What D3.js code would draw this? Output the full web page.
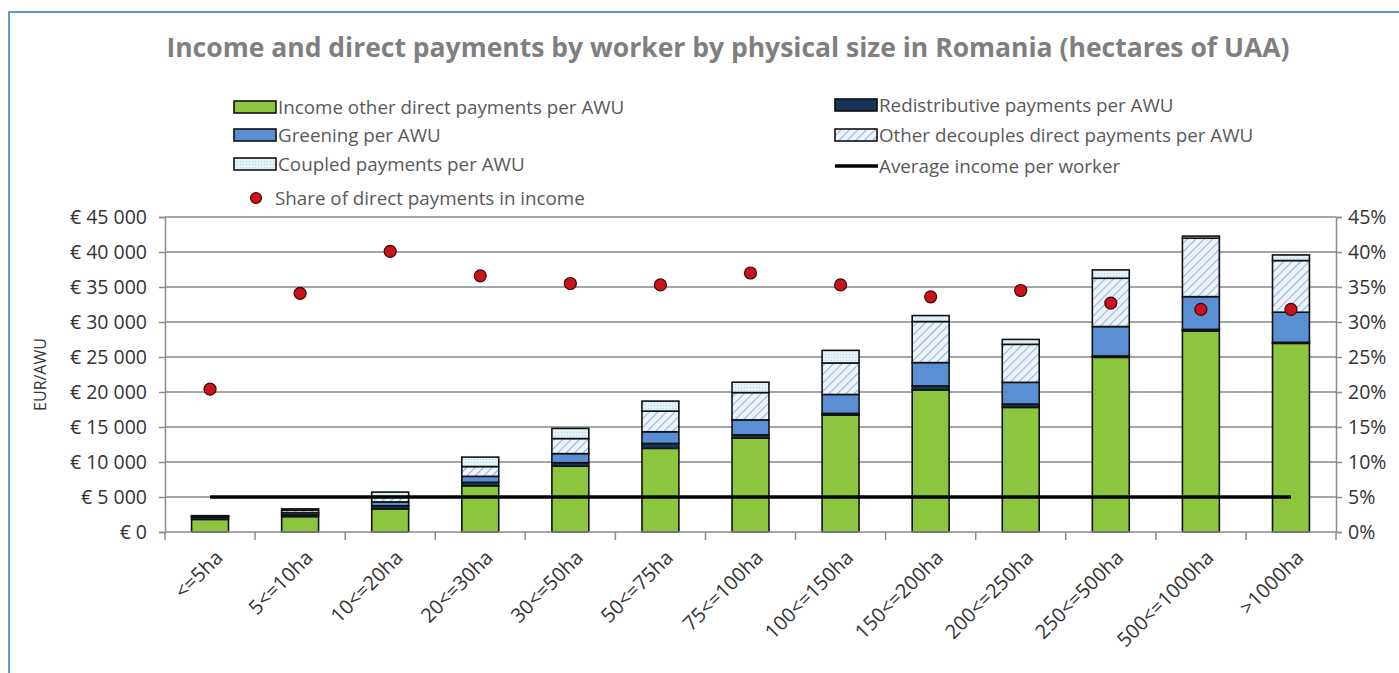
<!DOCTYPE html>
<html>
<head>
<meta charset="utf-8">
<script src="https://cdn.jsdelivr.net/npm/d3@7"></script>
<style>
  body { margin: 0; background: #fff; }
  svg { display: block; font-family: "Open Sans", sans-serif; }
</style>
</head>
<body>
<div id="chart"></div>
<script>
// values (EUR per AWU, share in %)
let categories = ["<=5ha", "5<=10ha", "10<=20ha", "20<=30ha", "30<=50ha", "50<=75ha", "75<=100ha",
	"100<=150ha", "150<=200ha", "200<=250ha", "250<=500ha", "500<=1000ha", ">1000ha"];
let incomeOther = [1800, 2200, 3300, 6600, 9400, 11950, 13400, 16700, 20300, 17800, 24950, 28700, 26950];
let redistributive = [350, 250, 450, 500, 500, 700, 480, 250, 570, 480, 200, 250, 150];
let greening = [100, 300, 550, 850, 1300, 1670, 2140, 2700, 3330, 3100, 4200, 4670, 4300];
let otherDecoupled = [50, 350, 750, 1400, 2150, 2950, 3900, 4500, 5860, 5430, 6900, 8350, 7380];
let coupled = [30, 200, 650, 1350, 1450, 1430, 1480, 1800, 860, 700, 1190, 300, 800];
let shareDP = [20.4, 34.1, 40.1, 36.6, 35.5, 35.3, 37.0, 35.3, 33.6, 34.5, 32.7, 31.8, 31.8];
let avgIncome = 5000;
let leftTicks = [0, 5000, 10000, 15000, 20000, 25000, 30000, 35000, 40000, 45000];
let rightTicks = [0, 5, 10, 15, 20, 25, 30, 35, 40, 45];

let width = 1399, height = 673;
let plot = { left: 165, right: 1336, top: 217, bottom: 532 };

let svg = d3.select("#chart").append("svg")
	.attr("width", width)
	.attr("height", height);

let defs = svg.append("defs");
let hatch = defs.append("pattern")
	.attr("id", "hatch")
	.attr("patternUnits", "userSpaceOnUse")
	.attr("width", 6).attr("height", 6)
	.attr("patternTransform", "rotate(45)");
hatch.append("rect").attr("width", 6).attr("height", 6).attr("fill", "#eef3fa");
hatch.append("line").attr("x1", 0).attr("y1", 0).attr("x2", 0).attr("y2", 6)
	.attr("stroke", "#93b6e0").attr("stroke-width", 2.2);

let dots = defs.append("pattern")
	.attr("id", "dots")
	.attr("patternUnits", "userSpaceOnUse")
	.attr("width", 3).attr("height", 3);
dots.append("rect").attr("width", 3).attr("height", 3).attr("fill", "#e3f2f7");
dots.append("rect").attr("width", 1).attr("height", 1).attr("fill", "#b3d8e6");

// outer frame (only top and left visible)
svg.append("rect")
	.attr("x", 9).attr("y", 12)
	.attr("width", width).attr("height", height)
	.attr("fill", "none")
	.attr("stroke", "#5b9bd5")
	.attr("stroke-width", 2);

svg.append("text")
	.attr("x", 728).attr("y", 57)
	.attr("text-anchor", "middle")
	.style("font-size", "26.5px")
	.style("font-weight", "bold")
	.style("fill", "#7f7f7f")
	.text("Income and direct payments by worker by physical size in Romania (hectares of UAA)");

/* Scales */
let xScale = d3.scaleBand()
	.domain(categories)
	.range([plot.left, plot.right])
	.paddingInner(0.59)
	.paddingOuter(0.295);
let yScale = d3.scaleLinear().domain([0, 45000]).range([plot.bottom, plot.top]);
let yRight = d3.scaleLinear().domain([0, 45]).range([plot.bottom, plot.top]);

// grid
svg.append("g")
	.attr("class", "grid")
	.selectAll("line")
	.data(leftTicks.slice(1))
	.enter().append("line")
	.attr("x1", plot.left).attr("x2", plot.right)
	.attr("y1", d => yScale(d)).attr("y2", d => yScale(d))
	.attr("stroke", "#a6a6a6")
	.attr("stroke-width", 2);

let fmtEuro = d => "€ " + (d === 0 ? "0" : d3.format(",")(d).replace(/,/g, " "));

let yAxis = svg.append("g")
	.attr("transform", `translate(${plot.left},0)`)
	.call(d3.axisLeft(yScale).tickValues(leftTicks).tickSize(6).tickPadding(12).tickFormat(fmtEuro));
let yAxisR = svg.append("g")
	.attr("transform", `translate(${plot.right},0)`)
	.call(d3.axisRight(yRight).tickValues(rightTicks).tickSize(6).tickPadding(6).tickFormat(d => d + "%"));
[yAxis, yAxisR].forEach(g => {
	g.select(".domain").attr("stroke", "#8c8c8c").attr("stroke-width", 1.5);
	g.selectAll(".tick line").attr("stroke", "#8c8c8c").attr("stroke-width", 1.5);
	g.selectAll(".tick text")
		.style("font-size", "19.5px")
		.style("font-family", "Open Sans, sans-serif")
		.style("fill", "#333");
});

svg.append("text")
	.attr("transform", `translate(40,${(plot.top + plot.bottom) / 2}) rotate(-90)`)
	.attr("text-anchor", "middle")
	.attr("dy", "0.35em")
	.style("font-size", "16px")
	.style("fill", "#333")
	.text("EUR/AWU");

/* stacked bars */
let keys = ["income", "redist", "greening", "other", "coupled"];
let fills = {
	income: "#8cc63f",
	redist: "#1a3358",
	greening: "#5b8fd4",
	other: "url(#hatch)",
	coupled: "url(#dots)"
};
let table = categories.map((c, i) => ({
	cat: c,
	income: incomeOther[i],
	redist: redistributive[i],
	greening: greening[i],
	other: otherDecoupled[i],
	coupled: coupled[i]
}));
let stacked = d3.stack().keys(keys)(table);

svg.append("g")
	.attr("class", "bars")
	.selectAll("g")
	.data(stacked).enter()
	.append("g")
	.attr("fill", d => fills[d.key])
	.selectAll("rect")
	.data(d => d).enter()
	.append("rect")
	.attr("x", d => xScale(d.data.cat))
	.attr("width", xScale.bandwidth())
	.attr("y", d => yScale(d[1]))
	.attr("height", d => yScale(d[0]) - yScale(d[1]))
	.attr("stroke", "#111")
	.attr("stroke-width", 1.6);

// x axis
let xAxisG = svg.append("g").attr("class", "x axis");
xAxisG.append("line")
	.attr("x1", plot.left).attr("x2", plot.right)
	.attr("y1", plot.bottom).attr("y2", plot.bottom)
	.attr("stroke", "#8c8c8c").attr("stroke-width", 1.5);
xAxisG.selectAll(".xtick")
	.data(d3.range(categories.length + 1)).enter()
	.append("line")
	.attr("x1", i => plot.left + i * xScale.step())
	.attr("x2", i => plot.left + i * xScale.step())
	.attr("y1", plot.bottom).attr("y2", plot.bottom + 8)
	.attr("stroke", "#8c8c8c").attr("stroke-width", 1.5);
xAxisG.selectAll(".xlabel")
	.data(categories).enter()
	.append("text")
	.attr("transform", d => `translate(${xScale(d) + xScale.bandwidth() / 2 + 9},${plot.bottom + 22}) rotate(-45)`)
	.attr("text-anchor", "end")
	.attr("dy", "0.35em")
	.style("font-size", "20px")
	.style("fill", "#333")
	.text(d => d);

/* average income line */
let cx = d => xScale(d) + xScale.bandwidth() / 2;
svg.append("line")
	.attr("x1", cx(categories[0]))
	.attr("x2", cx(categories[categories.length - 1]))
	.attr("y1", yScale(avgIncome)).attr("y2", yScale(avgIncome))
	.attr("stroke", "#000").attr("stroke-width", 3.5);

/* share dots */
svg.append("g")
	.selectAll("circle")
	.data(shareDP).enter()
	.append("circle")
	.attr("cx", (d, i) => cx(categories[i]))
	.attr("cy", d => yRight(d))
	.attr("r", 6)
	.attr("fill", "#c8151d")
	.attr("stroke", "#4a0000")
	.attr("stroke-width", 1.2);

/* legend */
let legendItems = [
	{ label: "Income other direct payments per AWU", type: "rect", fill: fills.income, x: 234, y: 107 },
	{ label: "Greening per AWU", type: "rect", fill: fills.greening, x: 234, y: 135 },
	{ label: "Coupled payments per AWU", type: "rect", fill: fills.coupled, x: 234, y: 164 },
	{ label: "Redistributive payments per AWU", type: "rect", fill: fills.redist, x: 835, y: 105 },
	{ label: "Other decouples direct payments per AWU", type: "rect", fill: fills.other, x: 835, y: 135 },
	{ label: "Average income per worker", type: "line", x: 835, y: 166 },
	{ label: "Share of direct payments in income", type: "dot", x: 234, y: 198 }
];
let legend = svg.append("g").attr("class", "legend")
	.selectAll("g")
	.data(legendItems).enter()
	.append("g")
	.attr("transform", d => `translate(${d.x},${d.y})`);
legend.filter(d => d.type === "rect").append("rect")
	.attr("x", 0).attr("y", -6)
	.attr("width", 42).attr("height", 12)
	.attr("fill", d => d.fill)
	.attr("stroke", "#111").attr("stroke-width", 1.6);
legend.filter(d => d.type === "line").append("line")
	.attr("x1", 0).attr("x2", 43).attr("y1", 0).attr("y2", 0)
	.attr("stroke", "#000").attr("stroke-width", 3.5);
legend.filter(d => d.type === "dot").append("circle")
	.attr("cx", 22).attr("cy", 0).attr("r", 5.5)
	.attr("fill", "#c8151d").attr("stroke", "#4a0000").attr("stroke-width", 1.2);
legend.append("text")
	.attr("x", d => d.type === "dot" ? 41 : 44)
	.attr("y", 0)
	.attr("dy", "0.35em")
	.style("font-size", "18.8px")
	.style("fill", "#595959")
	.text(d => d.label);
</script>
</body>
</html>
